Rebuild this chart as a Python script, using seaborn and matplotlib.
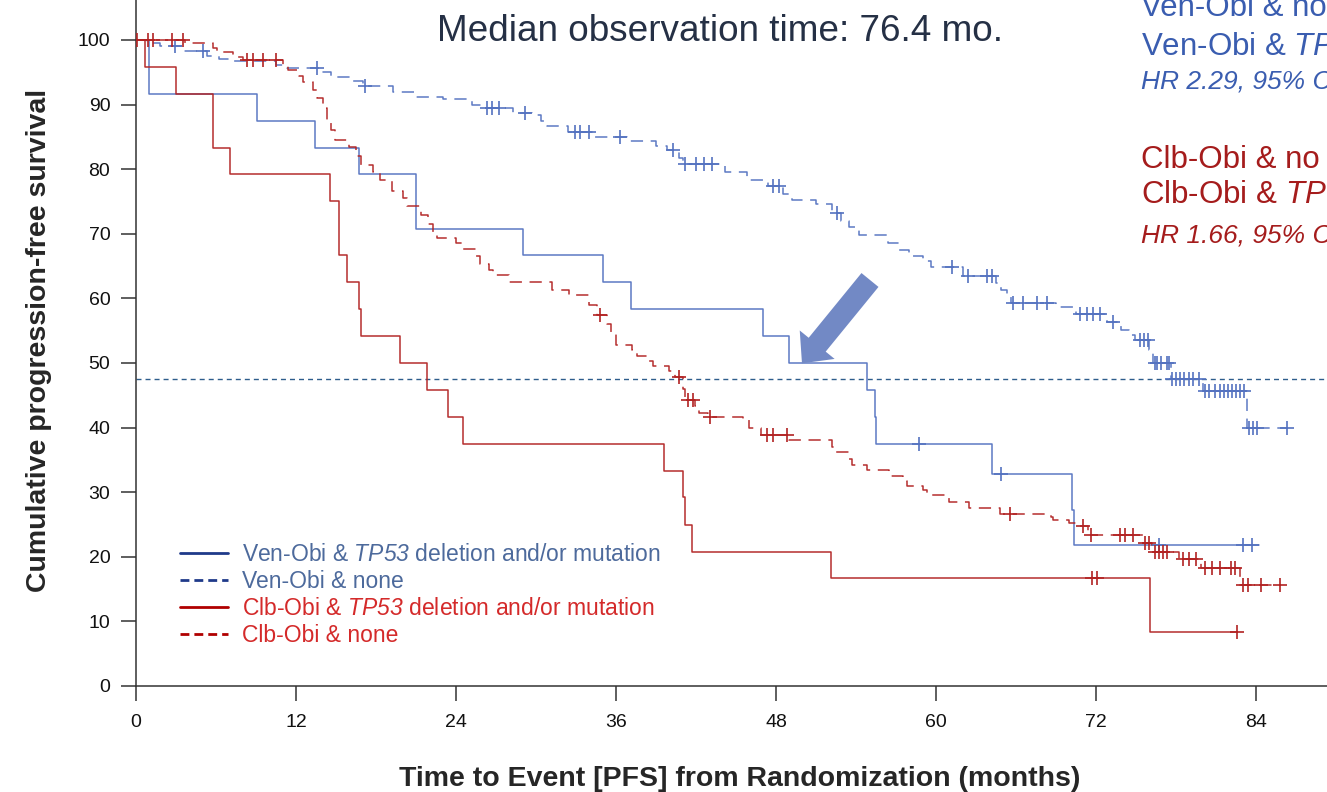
import numpy as np
import pandas as pd
import matplotlib
matplotlib.use("Agg")
import matplotlib.pyplot as plt
from matplotlib.lines import Line2D
import seaborn as sns

# ---------------- data ----------------
# Ven-Obi & TP53 deletion and/or mutation (solid blue)
vt_times = [1.0, 9.1, 13.4, 16.75, 21.0, 29.05, 35.0, 37.1, 47.05, 48.97, 54.8, 55.4, 55.5, 64.2, 70.2, 70.35]
vt_surv = [91.7, 87.5, 83.3, 79.2, 70.8, 66.7, 62.5, 58.3, 54.2, 50.0, 45.8, 41.7, 37.5, 32.8, 27.3, 21.9]
vt_end = 84.2
vt_cens = [58.7, 64.9, 76.7, 83.05, 83.7]

# Ven-Obi & none (dashed blue)
vn_times = [0.8, 1.8, 3.5, 5.3, 6.2, 7.0, 10.5, 11.3, 13.9, 14.6, 16.3, 17.0, 19.3, 21.0, 23.0, 25.2,
            25.9, 28.3, 29.7, 30.4, 30.8, 32.4, 34.2, 36.8, 39.0, 39.8, 40.7, 41.0, 44.2, 45.8, 47.4,
            48.5, 49.2, 51.0, 52.2, 52.9, 53.5, 54.2, 56.4, 57.2, 58.0, 59.0, 59.6, 62.0, 64.5, 64.9,
            65.3, 65.6, 69.0, 70.5, 72.8, 73.9, 74.5, 74.9, 76.0, 76.3, 77.6, 80.0, 83.3]
vn_surv = [99.5, 99.0, 98.3, 97.6, 97.0, 96.7, 96.2, 95.7, 95.0, 94.3, 93.6, 92.9, 92.0, 91.2, 90.8, 90.0,
           89.5, 88.7, 88.4, 87.5, 86.7, 85.8, 85.0, 84.3, 83.6, 83.0, 81.8, 80.8, 79.5, 78.3, 77.4,
           76.2, 75.2, 74.6, 73.2, 72.0, 71.0, 69.8, 68.6, 67.5, 66.6, 65.8, 64.9, 63.5, 62.4, 61.3,
           60.3, 59.3, 58.7, 57.6, 56.4, 55.1, 54.3, 53.6, 52.0, 50.0, 47.5, 45.6, 40.0]
vn_end = 86.3
vn_cens = [2.9, 5.0, 13.6, 17.2, 26.3, 26.7, 27.2, 29.2, 32.9, 33.3, 34.0, 36.3, 40.3, 41.2, 42.0,
           42.6, 43.2, 47.8, 48.2, 52.6, 61.2, 62.4, 63.8, 64.2, 65.8, 66.5, 67.6, 68.3, 70.8, 71.3,
           71.8, 72.3, 73.3, 75.3, 75.6, 75.9, 76.4, 76.6, 76.9, 77.3, 77.5, 77.7, 78.0, 78.3, 78.6,
           79.0, 79.3, 79.7, 80.2, 80.5, 80.9, 81.3, 81.6, 81.9, 82.2, 82.5, 82.8, 83.1, 83.5, 83.8,
           84.1, 86.3]

# Clb-Obi & TP53 deletion and/or mutation (solid red)
ct_times = [0.7, 3.0, 5.75, 5.8, 7.05, 14.55, 15.2, 15.25, 15.8, 16.7, 16.9, 19.8, 21.85, 23.4, 24.5,
            39.6, 41.0, 41.2, 41.7, 52.1, 76.05]
ct_surv = [95.8, 91.7, 87.5, 83.3, 79.2, 75.0, 70.8, 66.7, 62.5, 58.3, 54.2, 50.0, 45.8, 41.7, 37.5,
           33.3, 29.2, 25.0, 20.8, 16.7, 8.3]
ct_end = 82.6
ct_cens = [71.7, 72.1, 82.6]

# Clb-Obi & none (dashed red)
cn_times = [3.7, 5.8, 6.1, 7.3, 8.0, 11.0, 11.4, 12.2, 12.5, 13.3, 13.6, 14.0, 14.3, 14.6, 14.9, 16.0,
            16.5, 16.9, 17.8, 18.3, 19.2, 20.0, 20.3, 21.4, 21.9, 22.3, 22.6, 24.0, 24.5, 25.5, 25.8,
            26.5, 26.8, 28.0, 31.2, 32.5, 34.0, 34.6, 35.3, 35.6, 36.0, 37.2, 37.6, 38.5, 38.8, 40.0,
            40.4, 41.0, 41.2, 41.9, 42.2, 42.9, 45.5, 46.0, 46.9, 49.0, 52.2, 52.4, 53.5, 53.7, 54.8,
            56.5, 57.5, 57.8, 59.0, 59.3, 61.0, 62.5, 64.8, 68.6, 68.8, 70.0, 70.8, 71.4, 75.5, 76.2,
            78.2, 79.9, 82.8]
cn_surv = [99.5, 98.8, 98.1, 97.4, 96.9, 96.0, 95.4, 94.5, 93.5, 92.3, 91.0, 89.5, 87.6, 86.0, 84.5,
           83.4, 82.0, 80.6, 79.5, 78.3, 76.6, 75.5, 74.3, 72.9, 71.5, 70.1, 69.3, 68.5, 67.6, 66.5,
           65.3, 64.4, 63.6, 62.6, 61.3, 60.5, 59.0, 57.4, 56.0, 54.8, 52.8, 52.0, 51.1, 50.3, 49.5,
           48.7, 47.9, 46.0, 44.3, 43.3, 42.3, 41.7, 41.2, 40.0, 38.9, 38.1, 37.0, 36.2, 35.2, 34.2,
           33.4, 32.5, 31.8, 31.0, 30.3, 29.6, 28.5, 27.5, 26.7, 26.2, 25.7, 25.2, 24.7, 23.4, 22.1,
           20.8, 19.6, 18.2, 15.6]
cn_end = 85.8
cn_cens = [0.1, 0.9, 1.3, 2.7, 3.5, 8.3, 8.8, 9.5, 10.5, 34.8, 40.7, 41.4, 41.8, 43.05, 47.3, 47.8,
           48.8, 65.55, 71.0, 71.6, 73.8, 74.2, 74.8, 75.7, 76.0, 76.4, 76.7, 77.0, 77.3, 78.5, 79.0,
           79.5, 80.2, 80.7, 81.3, 82.1, 82.4, 83.0, 83.4, 84.4, 85.8]

legend_labels = ["Ven-Obi & $TP53$ deletion and/or mutation",
                 "Ven-Obi & none",
                 "Clb-Obi & $TP53$ deletion and/or mutation",
                 "Clb-Obi & none"]
x_ticks = [0, 12, 24, 36, 48, 60, 72, 84]
y_ticks = [0, 10, 20, 30, 40, 50, 60, 70, 80, 90, 100]
median_level = 47.5
arrow_tip = (49.95, 49.95)
arrow_tail = (55.05, 62.85)
title_text = "Median observation time: 76.4 mo."
# the reference shows these notes cut by the right edge of the picture
ven_notes = ["Ven-Obi & no", "Ven-Obi & $TP$", "HR 2.29, 95% C"]
clb_notes = ["Clb-Obi & no", "Clb-Obi & $TP$", "HR 1.66, 95% C"]

# ---------------- styling ----------------
sns.set_theme(style="ticks")
plt.rcParams["font.family"] = ["Liberation Sans", "DejaVu Sans"]
plt.rcParams["mathtext.fontset"] = "custom"
plt.rcParams["mathtext.rm"] = "Liberation Sans:italic"
plt.rcParams["mathtext.it"] = "Liberation Sans:italic"
plt.rcParams["mathtext.bf"] = "Liberation Sans:bold"

BLUE = "#5472c0"
RED = "#b22222"

W, H = 1327, 792
fig = plt.figure(figsize=(W / 100, H / 100), dpi=100)
ax = fig.add_axes([136 / W, 106 / H, 1 - 136 / W, 686 / H])


def km_frame(times, surv, end):
    t = np.concatenate([[0.0], times, [end]])
    s = np.concatenate([[100.0], surv, [surv[-1]]])
    return pd.DataFrame({"t": t, "s": s})


def censor_frame(times, surv, cens):
    t = np.concatenate([[0.0], times])
    s = np.concatenate([[100.0], surv])
    idx = np.searchsorted(t, cens, side="right") - 1
    return pd.DataFrame({"t": np.asarray(cens, float), "s": s[idx]})


groups = [
    (vn_times, vn_surv, vn_end, vn_cens, BLUE, True),
    (vt_times, vt_surv, vt_end, vt_cens, BLUE, False),
    (cn_times, cn_surv, cn_end, cn_cens, RED, True),
    (ct_times, ct_surv, ct_end, ct_cens, RED, False),
]

# median reference line
ax.axhline(median_level, color="#2e5d8c", lw=1.0, dashes=(3.6, 2.9), zorder=1)

for times, surv, end, cens, color, dashed in groups:
    df = km_frame(times, surv, end)
    sns.lineplot(data=df, x="t", y="s", ax=ax, drawstyle="steps-post", color=color,
                 linewidth=1.1, estimator=None, sort=False, legend=False, alpha=0.95)
    line = ax.lines[-1]
    if dashed:
        line.set_dashes([8, 5])
    cdf = censor_frame(times, surv, cens)
    sns.scatterplot(data=cdf, x="t", y="s", ax=ax, marker="+", s=110, color=color,
                    linewidth=1.2, legend=False, zorder=3)

# arrow
ax.annotate("", xy=arrow_tip, xytext=arrow_tail,
            arrowprops=dict(arrowstyle="simple,head_length=1.73,head_width=3.24,tail_width=1.58",
                            mutation_scale=10, color="#7289c5", lw=0, shrinkA=0, shrinkB=0))

# axes
ax.set_xlim(0, (W - 136) / 13.333)
ax.set_ylim(0, 686 / 6.46)
ax.set_xticks(x_ticks)
ax.set_yticks(y_ticks)
sns.despine(ax=ax)
for sp in ("left", "bottom"):
    ax.spines[sp].set_linewidth(1.1)
    ax.spines[sp].set_color("#333333")
ax.tick_params(axis="both", direction="out", length=10.5, width=1.1, color="#333333",
               labelsize=14, labelcolor="#111111")
ax.tick_params(axis="x", pad=10)
ax.tick_params(axis="y", pad=8)

ax.set_xlabel("Time to Event [PFS] from Randomization (months)", fontsize=20.5, fontweight="bold")
ax.set_ylabel("Cumulative progression-free survival", fontsize=20.5, fontweight="bold")
ax.xaxis.set_label_coords(0.507, -0.1166)
ax.yaxis.set_label_coords(-0.0705, 0.504)

# legend
handles = [
    Line2D([0], [0], color="#1f3a8a", lw=2.0),
    Line2D([0], [0], color="#1f3a8a", lw=2.0, dashes=(3.2, 1.8)),
    Line2D([0], [0], color="#b00000", lw=2.0),
    Line2D([0], [0], color="#b00000", lw=2.0, dashes=(3.2, 1.8)),
]
leg = ax.legend(handles, legend_labels, loc="upper left",
                bbox_to_anchor=((180 - 136) / (W - 136), (686 - 543) / 686),
                frameon=False, fontsize=16.5, handlelength=2.1, handletextpad=0.6,
                labelspacing=0.18, borderaxespad=0, borderpad=0)
for txt, c in zip(leg.get_texts(), ["#4d6a9c", "#4d6a9c", "#d42a2a", "#d42a2a"]):
    txt.set_color(c)

# title and side notes
fig.text(437 / W, 1 - 41 / H, title_text, fontsize=26.6, color="#253045", va="baseline")
for txt, base, size, style in zip(ven_notes, [16, 55, 88], [22.5, 22.5, 19], ["normal", "normal", "italic"]):
    fig.text(1141 / W, 1 - base / H, txt, fontsize=size, color="#3a5db0", va="baseline", style=style)
for txt, base, size, style in zip(clb_notes, [168, 203, 242], [22.5, 22.5, 19], ["normal", "normal", "italic"]):
    fig.text(1141 / W, 1 - base / H, txt, fontsize=size, color="#a51c1c", va="baseline", style=style)

fig.savefig("out.png", dpi=100)
